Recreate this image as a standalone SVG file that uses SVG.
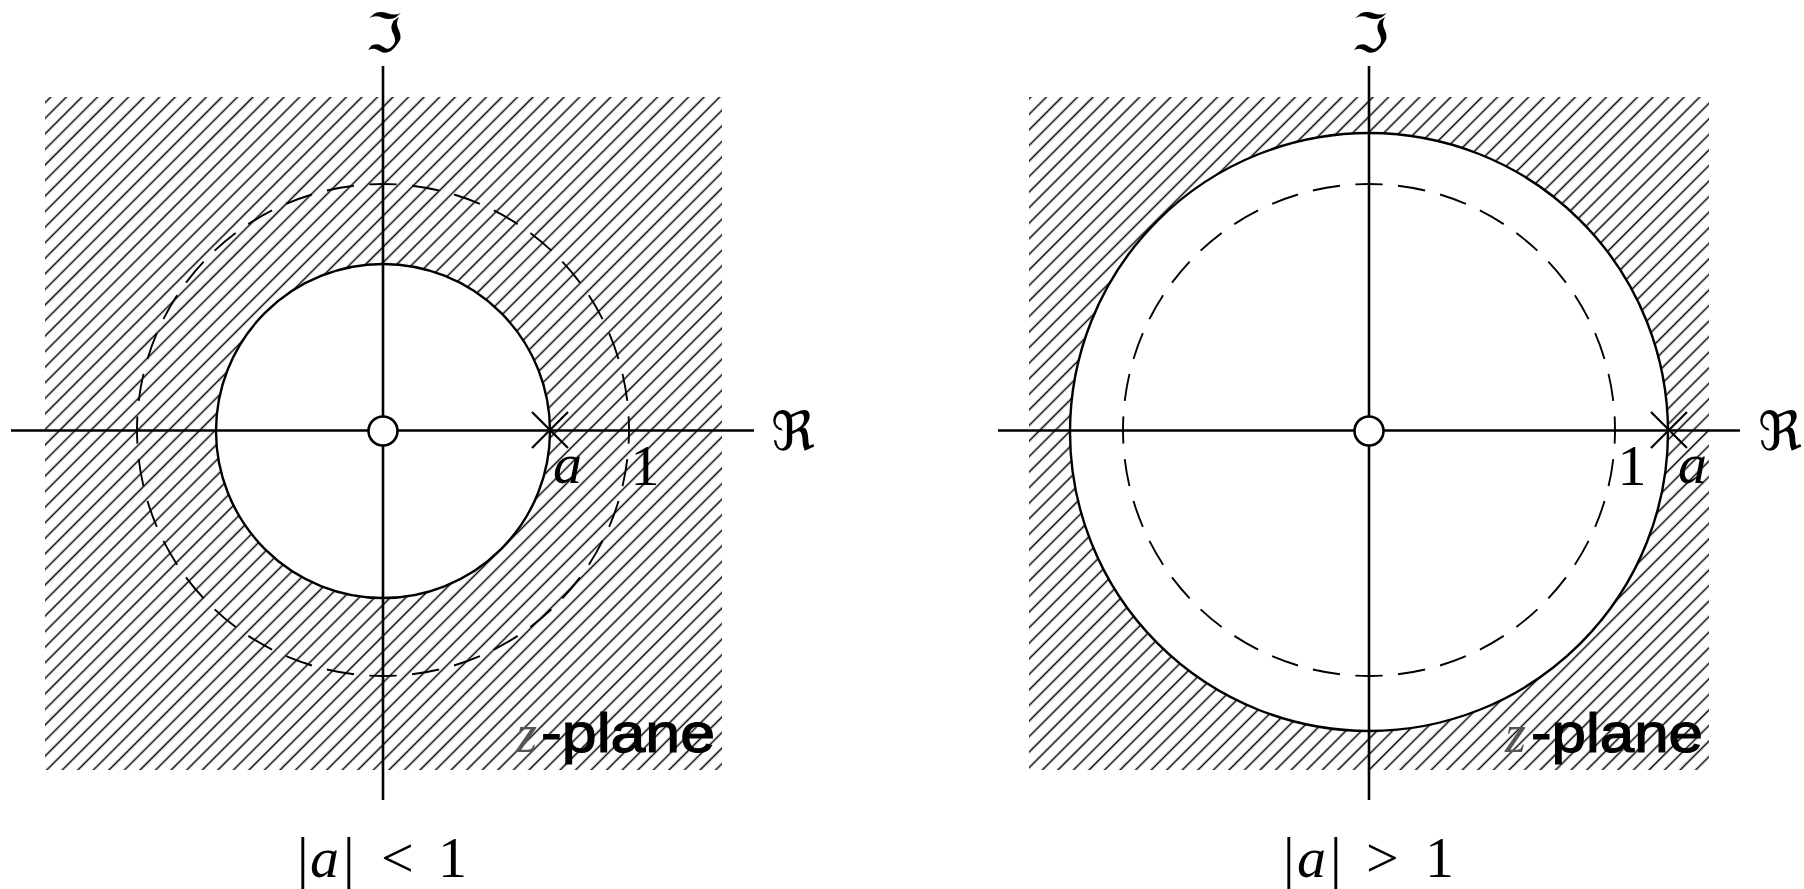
<svg xmlns="http://www.w3.org/2000/svg" width="1804" height="889" viewBox="0 0 1804 889">
<defs>
<pattern id="hatch" width="11" height="11" patternUnits="userSpaceOnUse" patternTransform="rotate(45)">
<line x1="5.5" y1="0" x2="5.5" y2="11" stroke="#000" stroke-width="1.5"/>
</pattern>
</defs>
<style>
.ax{stroke:#000;stroke-width:2.6;fill:none}
.sol{stroke:#000;stroke-width:2.4;fill:#fff}
.dash{stroke:#000;stroke-width:1.9;fill:none;stroke-dasharray:6.4 3.6;stroke-dashoffset:3.2}
.org{stroke:#000;stroke-width:2.6;fill:#fff}
.cross{stroke:#000;stroke-width:2.2}
.frak{font-family:"DejaVu Serif","DejaVu Sans",serif;font-size:54px;fill:#000}
.mi{font-family:"Liberation Serif",serif;font-style:italic;font-size:58px;fill:#000}
.mn{font-family:"Liberation Serif",serif;font-size:58px;fill:#000}
.zi{font-family:"Liberation Serif",serif;font-style:italic;font-size:54px;fill:#555}
.pl{font-family:"Liberation Sans",Arial,sans-serif;font-size:56px;fill:#000;stroke:#000;stroke-width:1.2}
</style>
<g id="left-panel">
<rect x="45" y="97" width="677" height="673" fill="url(#hatch)"/>
<circle class="sol" cx="383" cy="431" r="167"/>
<circle class="dash" cx="383" cy="430" r="246" pathLength="360"/>
<line class="ax" x1="11" y1="430.5" x2="754" y2="430.5"/>
<line class="ax" x1="383" y1="66" x2="383" y2="800"/>
<circle class="org" cx="383" cy="431" r="14.5"/>
<path class="cross" d="M532 412 L568 448 M532 448 L568 412"/>
<text class="frak" x="384" y="52" text-anchor="middle">ℑ</text>
<text class="frak" x="793" y="450" text-anchor="middle">ℜ</text>
<text class="mi" x="553" y="483">a</text>
<text class="mn" x="645" y="485" text-anchor="middle">1</text>
<text class="zi" x="516" y="752">z</text>
<text class="pl" x="541" y="752" textLength="174" lengthAdjust="spacingAndGlyphs">-plane</text>
<text class="mn" y="877"><tspan x="297">|</tspan><tspan class="mi" x="310">a</tspan><tspan x="343">|</tspan><tspan x="381">&lt;</tspan><tspan x="438">1</tspan></text>
</g>
<g id="right-panel">
<rect x="1029" y="97" width="680" height="673" fill="url(#hatch)"/>
<circle class="sol" cx="1369" cy="432" r="299"/>
<circle class="dash" cx="1369" cy="430" r="246" pathLength="360"/>
<line class="ax" x1="998" y1="430.5" x2="1740" y2="430.5"/>
<line class="ax" x1="1369" y1="66" x2="1369" y2="800"/>
<circle class="org" cx="1369" cy="431" r="14.5"/>
<path class="cross" d="M1651 412 L1687 448 M1651 448 L1687 412"/>
<text class="frak" x="1370" y="52" text-anchor="middle">ℑ</text>
<text class="frak" x="1780" y="450" text-anchor="middle">ℜ</text>
<text class="mi" x="1678" y="483">a</text>
<text class="mn" x="1632" y="485" text-anchor="middle">1</text>
<text class="zi" x="1505" y="752">z</text>
<text class="pl" x="1531" y="752" textLength="172" lengthAdjust="spacingAndGlyphs">-plane</text>
<text class="mn" y="877"><tspan x="1283">|</tspan><tspan class="mi" x="1297">a</tspan><tspan x="1330">|</tspan><tspan x="1366">&gt;</tspan><tspan x="1425">1</tspan></text>
</g>
<g id="connectors"></g>
</svg>
